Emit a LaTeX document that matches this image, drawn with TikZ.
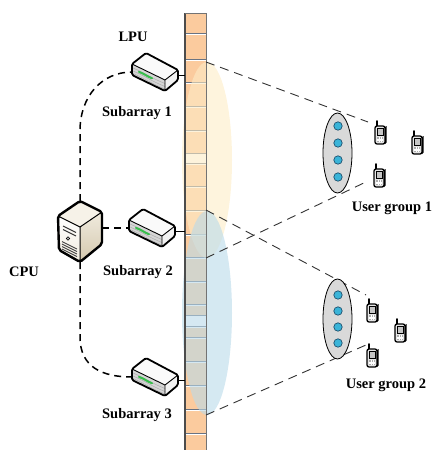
\documentclass[tikz,border=0pt]{standalone}
\usepackage{fontspec}
\setmainfont{Liberation Serif}
\usetikzlibrary{shapes.geometric}
\definecolor{cellfill}{RGB}{251,203,158}
\definecolor{beamyel}{RGB}{253,236,198}
\definecolor{beamblue}{RGB}{185,218,234}
\definecolor{sepline}{RGB}{105,115,130}
\definecolor{dotblue}{RGB}{58,180,216}
\definecolor{dotedge}{RGB}{30,80,110}
\definecolor{groupgray}{RGB}{217,217,217}
\definecolor{ledgreen}{RGB}{55,190,75}
\definecolor{servfront}{RGB}{240,235,222}
\definecolor{servside}{RGB}{212,200,174}
\definecolor{servtop}{RGB}{246,242,232}

\tikzset{
  % isometric LPU box with a green status stripe
  router/.pic={
    \fill[gray!32] (0,11) -- (33,27) -- (33,38) -- (0,22) -- cycle;
    \fill[gray!10] (33,27) -- (46,17) -- (46,27) -- (33,38) -- cycle;
    \fill[gray!4] (14,0) -- (46,17) -- (33,27) -- (0,11) -- cycle;
    \foreach \o in {3.5,6.5,9} {
      \draw[gray!65, line width=0.5pt] (1,11.5+\o) .. controls (12,16+\o) and (20,22+\o) .. (33,27+\o);
    }
    \draw[ledgreen, line width=2pt, line cap=round] (7,18.9) .. controls (12,20.5) and (16,24) .. (20,25.2);
    \draw[line width=1.8pt, line join=round, rounded corners=1.5pt]
      (14,0) -- (46,17) -- (46,27) -- (33,38) -- (0,22) -- (0,11) -- cycle;
    \draw[line width=0.9pt] (0,11) -- (33,27) -- (46,17) (33,27) -- (33,38);
    \coordinate (-in) at (0,19);
    \coordinate (-out) at (46,22);
  },
  % tower server acting as CPU
  server/.pic={
    \shade[top color=white, bottom color=servfront] (0,16) -- (22,27) -- (22,62) -- (1,50) -- cycle;
    \shade[top color=servfront, bottom color=servside] (22,27) -- (44,12) -- (44,44) -- (22,62) -- cycle;
    \fill[servtop] (0,16) -- (22,1) -- (44,12) -- (22,27) -- cycle;
    \draw[line width=1.1pt, black!80] (5,26) -- (18,32.5) (5,29.5) -- (18,36);
    \draw[line width=0.6pt, fill=gray!55] (10,38.5) circle[radius=1.8];
    \foreach \k in {0,1,2,3} {
      \draw[line width=0.9pt, black!75] (4,41.5+2.5*\k) -- (19,49+2.5*\k);
    }
    \draw[line width=2.4pt, line join=round, rounded corners=2pt]
      (0,16) -- (22,1) -- (44,12) -- (44,44) -- (22,62) -- (1,50) -- cycle;
    \draw[line width=1pt] (0,16) -- (22,27) -- (44,12) (22,27) -- (22,62);
    \coordinate (-top) at (22,1);
    \coordinate (-right) at (44,28);
    \coordinate (-bottom) at (22,62);
  },
  % handset of one user
  handset/.pic={
    \draw[line width=1.8pt, line cap=round] (-3,-8) -- (-3,-13);
    \draw[line width=1.3pt, fill=gray!20, rounded corners=2pt] (-5,-8) rectangle (5,10);
    \fill[black] (5,-7) -- (6.5,-8) -- (6.5,8.5) -- (5,10) -- cycle;
    \draw[line width=0.6pt, fill=gray!45] (-3,-5.5) rectangle (3,1);
    \fill[gray!65] (-3,3) rectangle (3,8);
    \draw[white, line width=0.4pt] (-3,4.7) -- (3,4.7) (-3,6.4) -- (3,6.4) (-1,3) -- (-1,8) (1,3) -- (1,8);
  }
}

\begin{document}
\begin{tikzpicture}[x=1pt,y=-1pt,
  lbl/.style={font=\fontsize{14.5}{17}\selectfont\bfseries, inner sep=0pt},
  busline/.style={dash pattern=on 7pt off 5pt, line width=1.5pt},
  beamline/.style={dash pattern=on 9pt off 6pt, line width=0.9pt, draw=black!80},
  group/.style={ellipse, draw, line width=0.8pt, fill=groupgray, minimum width=29pt, minimum height=80pt, inner sep=0pt},
  ant/.style={draw=dotedge, fill=dotblue, line width=0.7pt},
  cable/.style={line width=1pt}
]
\useasboundingbox (0,0) rectangle (433,450);

% antenna array column
\node[minimum width=21pt, minimum height=437pt, inner sep=0pt] (arr) at (195.5,231.5) {};
\fill[cellfill] (185,13) rectangle (206,450);
\fill[white] (185,154) rectangle (206,164);
\fill[white] (185,316) rectangle (206,327);
\foreach \y in {34,60,83,107,131,154,164,187,211,235,258,282,305,316,327,338,362,386,410,434} {
  \draw[sepline, line width=2.4pt] (185,\y) -- (206,\y);
  \draw[white, line width=0.8pt] (185,\y) -- (206,\y);
}

% beams of the two subarray groups
\fill[beamyel, fill opacity=0.6] (207,160) ellipse [x radius=25, y radius=98];
\fill[beamblue, fill opacity=0.6] (207,313) ellipse [x radius=25, y radius=102];

\draw[black!70, line width=1.1pt] (185,450) -- (185,13);
\draw[black!55, line width=0.7pt] (185,13) -- (206,13) -- (206,450);

% beam boundaries towards the user groups
\coordinate (p1) at (206,62);  \coordinate (q1) at (368,122);
\coordinate (p2) at (206,258); \coordinate (q2) at (368,181);
\coordinate (p3) at (206,210); \coordinate (q3) at (366,295);
\coordinate (p4) at (206,415); \coordinate (q4) at (366,345);
\draw[beamline] (p1) -- (q1);
\draw[beamline] (p2) -- (q2);
\draw[beamline] (p3) -- (q3);
\draw[beamline] (p4) -- (q4);

% user groups
\node[group] (ug1) at (337.5,153) {};
\foreach \y in {126,143,160,177} \draw[ant] (338,\y) circle[radius=4.2];
\node[group] (ug2) at (337.5,319) {};
\foreach \y in {295,311,327,343} \draw[ant] (338,\y) circle[radius=4.2];

\pic at (380,134) {handset};
\pic at (417,144) {handset};
\pic at (379,177) {handset};
\pic at (372,312) {handset};
\pic at (400,332) {handset};
\pic at (372,357) {handset};

\node[lbl] (ugl1) at (392,208) {User group 1};
\node[lbl] (ugl2) at (386,385) {User group 2};

% processing units
\pic (cpu) at (58,200) {server};
\pic (r1) at (132,53) {router};
\pic (r2) at (129,209) {router};
\pic (r3) at (132,358) {router};

\draw[busline] (cpu-top) -- ++(0,-70) .. controls +(0,-35) and +(-30,0) .. (r1-in);
\draw[busline] (cpu-right) -- (r2-in);
\draw[busline] (cpu-bottom) -- ++(0,75) .. controls +(0,30) and +(-30,0) .. (r3-in);

\draw[cable] (r1-out) -- (r1-out -| arr.west);
\draw[cable] (r2-out) -- (r2-out -| arr.west);
\draw[cable] (r3-out) -- (r3-out -| arr.west);

\node[lbl] (lpu) at (133,37) {LPU};
\node[lbl] (cpul) at (24,272) {CPU};
\node[lbl] (s1) at (137,113) {Subarray 1};
\node[lbl] (s2) at (138,272) {Subarray 2};
\node[lbl] (s3) at (137,415) {Subarray 3};
\end{tikzpicture}
\end{document}
